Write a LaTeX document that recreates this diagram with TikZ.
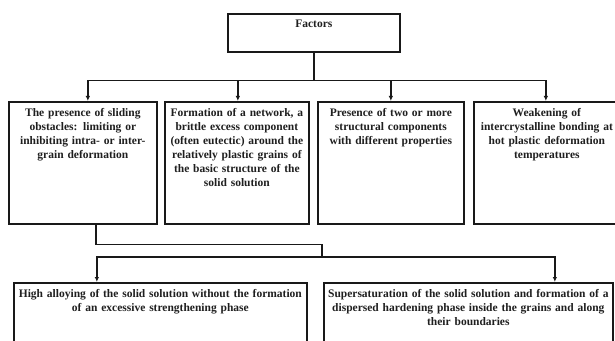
\documentclass[tikz,border=0pt]{standalone}
\usepackage{fontspec}
\setmainfont{Liberation Serif}
\usetikzlibrary{arrows.meta,calc}
\tikzset{
  box/.style={draw=black!90, line width=1.7pt, fill=white, inner sep=0pt, anchor=north west},
  lbl/.style={inner sep=0pt, anchor=north, align=center, text=black!88,
              font={\fontsize{11.5}{14}\selectfont\bfseries}},
  conn/.style={draw=black!90, line width=1.5pt},
  arr/.style={conn, -{Latex[length=5pt,width=4.5pt]}}
}
\begin{document}
\begin{tikzpicture}[x=1pt,y=1pt]
\useasboundingbox (0,0) rectangle (615,340);
\clip (0,0) rectangle (615,340);
% top box
\node[box, minimum width=172pt, minimum height=38pt] (f) at (227,327) {};
\node[lbl, text width=160pt] (ft) at ($(f.north)+(0,-6.5)$) {Factors};
% second row
\node[box, minimum width=148pt, minimum height=122pt] (b1) at (8,239) {};
\node[box, minimum width=144pt, minimum height=122pt] (b2) at (164,239) {};
\node[box, minimum width=146pt, minimum height=122pt] (b3) at (317,239) {};
\node[box, minimum width=146pt, minimum height=122pt] (b4) at (473,239) {};
\node[lbl, text width=170pt] (t1) at ($(b1.north)+(0,-7)$) {The presence of sliding\\obstacles: limiting or\\inhibiting intra- or inter-\\grain deformation};
\node[lbl, text width=170pt] (t2) at ($(b2.north)+(0,-7)$) {Formation of a network, a\\brittle excess component\\(often eutectic) around the\\relatively plastic grains of\\the basic structure of the\\solid solution};
\node[lbl, text width=170pt] (t3) at ($(b3.north)+(0,-7)$) {Presence of two or more\\structural components\\with different properties};
\node[lbl, text width=170pt] (t4) at ($(b4.north)+(0,-7)$) {Weakening of\\intercrystalline bonding at\\hot plastic deformation\\temperatures};
% third row
\node[box, minimum width=293pt, minimum height=80pt] (b5) at (13,58) {};
\node[box, minimum width=289pt, minimum height=80pt] (b6) at (323,58) {};
\node[lbl, text width=300pt] (t5) at ($(b5.north)+(0,-7)$) {High alloying of the solid solution without the formation\\of an excessive strengthening phase};
\node[lbl, text width=300pt] (t6) at ($(b6.north)+(0,-7)$) {Supersaturation of the solid solution and formation of a\\dispersed hardening phase inside the grains and along\\their boundaries};
% connectors top
\coordinate (j1) at ($(f.south)+(0,-28)$);
\draw[conn] (f.south) -- (j1);
\draw[arr] (j1) -| ([xshift=5pt]b1.north);
\draw[arr] (j1) -| ([xshift=1pt]b2.north);
\draw[arr] (j1) -| (b3.north);
\draw[arr] (j1) -| ([xshift=-1pt]b4.north);
% connectors bottom
\coordinate (j2) at (322,83);
\draw[conn] ([xshift=13pt]b1.south) -- ++(0,-20) -| (j2);
\draw[arr] (j2) -| ([xshift=-63.5pt]b5.north);
\draw[arr] (j2) -| ([xshift=86.5pt]b6.north);
\end{tikzpicture}
\end{document}
